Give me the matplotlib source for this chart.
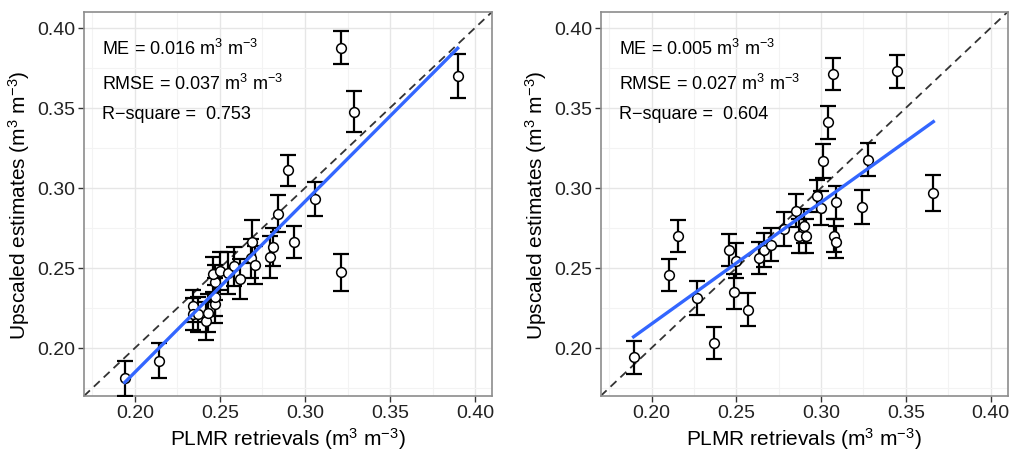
import numpy as np
import matplotlib.pyplot as plt
from matplotlib.ticker import MultipleLocator, FormatStrFormatter

plt.rcParams['font.family'] = ['Liberation Sans', 'DejaVu Sans']
plt.rcParams['mathtext.fontset'] = 'custom'
plt.rcParams['mathtext.rm'] = 'Liberation Sans'
plt.rcParams['mathtext.it'] = 'Liberation Sans:italic'

# left panel: PLMR retrievals vs upscaled estimates, with error bars
left_x = [0.194, 0.214, 0.234, 0.234, 0.237, 0.242, 0.243, 0.247, 0.247, 0.247,
          0.246, 0.250, 0.255, 0.258, 0.262, 0.268, 0.269, 0.2706, 0.2794, 0.2814,
          0.2843, 0.2898, 0.2935, 0.306, 0.321, 0.3212, 0.329, 0.3898]
left_y = [0.181, 0.192, 0.226, 0.221, 0.221, 0.217, 0.222, 0.2275, 0.232, 0.241,
          0.246, 0.248, 0.247, 0.251, 0.243, 0.256, 0.2665, 0.252, 0.257, 0.263,
          0.284, 0.311, 0.266, 0.293, 0.3875, 0.2473, 0.3477, 0.370]
left_err = [0.011, 0.011, 0.010, 0.010, 0.011, 0.012, 0.012, 0.012, 0.012, 0.011,
            0.011, 0.012, 0.013, 0.012, 0.0125, 0.012, 0.0135, 0.012, 0.013, 0.012,
            0.0115, 0.0097, 0.010, 0.0106, 0.0103, 0.0115, 0.0128, 0.0138]

# right panel
right_x = [0.1894, 0.2104, 0.2155, 0.2271, 0.2371, 0.2458, 0.2497, 0.2489, 0.2568, 0.2631,
           0.2666, 0.2705, 0.2784, 0.2851, 0.2872, 0.2900, 0.2911, 0.2974, 0.2998, 0.3088,
           0.3078, 0.3088, 0.3014, 0.3039, 0.3068, 0.3239, 0.3275, 0.3446, 0.3662]
right_y = [0.1942, 0.2456, 0.2702, 0.2311, 0.2031, 0.2612, 0.2546, 0.2352, 0.2240, 0.2563,
           0.2612, 0.2646, 0.2744, 0.2858, 0.2698, 0.2764, 0.2698, 0.2948, 0.2873, 0.2910,
           0.2702, 0.2661, 0.3170, 0.3410, 0.3713, 0.2880, 0.3177, 0.3730, 0.2969]
right_err = [0.0104, 0.0097, 0.0100, 0.0105, 0.0099, 0.0100, 0.0110, 0.0110, 0.0104, 0.0100,
             0.0105, 0.0105, 0.0105, 0.0105, 0.0105, 0.0105, 0.0105, 0.0100, 0.0105, 0.0105,
             0.0105, 0.0100, 0.0107, 0.0104, 0.0099, 0.0105, 0.0105, 0.0103, 0.0111]

stats = [("0.016", "0.037", "0.753"), ("0.005", "0.027", "0.604")]

fig = plt.figure(figsize=(10.24, 4.6), dpi=100)
ax1 = fig.add_axes([0.082, 0.137, 0.3985, 0.835])
ax2 = fig.add_axes([0.5866, 0.137, 0.3974, 0.835])

unit = r"(m$^{3}$ m$^{-3}$)"

for ax, xs, ys, es, st in [(ax1, left_x, left_y, left_err, stats[0]),
                           (ax2, right_x, right_y, right_err, stats[1])]:
    ax.set_xlim(0.17, 0.41)
    ax.set_ylim(0.17, 0.41)
    ax.xaxis.set_major_locator(MultipleLocator(0.05))
    ax.yaxis.set_major_locator(MultipleLocator(0.05))
    ax.xaxis.set_minor_locator(MultipleLocator(0.025))
    ax.yaxis.set_minor_locator(MultipleLocator(0.025))
    ax.xaxis.set_major_formatter(FormatStrFormatter('%.2f'))
    ax.yaxis.set_major_formatter(FormatStrFormatter('%.2f'))
    ax.grid(which='major', color='#e6e6e6', lw=1.0)
    ax.grid(which='minor', color='#f3f3f3', lw=0.8)
    ax.set_axisbelow(True)
    ax.tick_params(which='minor', length=0)
    ax.tick_params(which='major', length=4, width=1, color='#333333',
                   labelsize=14, labelcolor='#222222', pad=2)
    for s in ax.spines.values():
        s.set_color('#8c8c8c')
        s.set_linewidth(1.2)

    # 1:1 line
    ax.plot([0.17, 0.41], [0.17, 0.41], ls=(0, (4.5, 3)), color='#333333', lw=1.3, zorder=2)

    ax.errorbar(xs, ys, yerr=es, fmt='none', ecolor='black', elinewidth=1.6,
                capsize=5.5, capthick=1.6, zorder=3)
    ax.plot(xs, ys, 'o', ms=7, mfc='white', mec='black', mew=1.1, zorder=4)

    # linear fit
    k, b = np.polyfit(xs, ys, 1)
    fx = np.array([min(xs), max(xs)])
    ax.plot(fx, k * fx + b, color='#3366FF', lw=2.4, zorder=5)

    ax.text(0.044, 0.905, "ME = " + st[0] + r" m$^{3}$ m$^{-3}$", transform=ax.transAxes,
            fontsize=13, va='center', ha='left', color='black')
    ax.text(0.044, 0.816, "RMSE = " + st[1] + r" m$^{3}$ m$^{-3}$", transform=ax.transAxes,
            fontsize=13, va='center', ha='left', color='black')
    ax.text(0.044, 0.736, "R\u2212square =  " + st[2], transform=ax.transAxes,
            fontsize=13, va='center', ha='left', color='black')

    ax.set_xlabel("PLMR retrievals " + unit, fontsize=15, labelpad=3)
    ax.set_ylabel("Upscaled estimates " + unit, fontsize=15, labelpad=4)

fig.savefig('out.png', dpi=100)
